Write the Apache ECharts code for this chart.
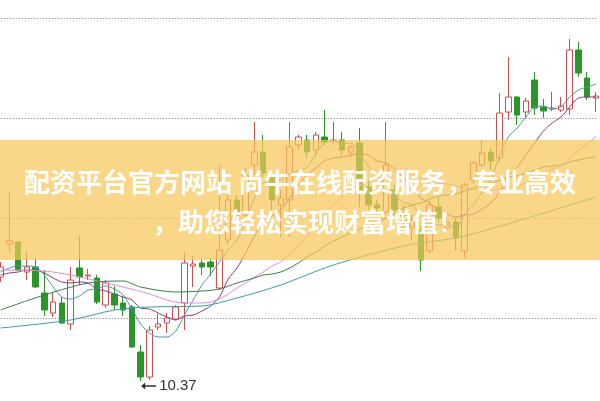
<!DOCTYPE html>
<html>
<head>
<meta charset="utf-8">
<script src="https://cdn.jsdelivr.net/npm/echarts@6/dist/echarts.min.js"></script>
<style>html,body{margin:0;padding:0;background:#fff;}#c{width:600px;height:401px;}</style>
</head>
<body>
<div id="c"></div>
<script>
const opens = [11.41,11.74,11.76,11.46,11.51,11.25,11.05,11.15,10.94,11.50,11.42,11.40,11.13,11.24,11.15,11.11,10.66,10.41,10.91,10.95,10.99,11.15,11.52,11.55,11.56,11.30,11.78,12.18,12.03,12.53,12.66,12.43,12.13,12.18,12.73,12.78,12.68,12.81,12.77,12.78,12.66,12.75,12.31,12.13,12.06,12.28,12.03,11.91,11.88,11.67,12.11,11.90,11.96,11.67,12.38,12.53,12.66,12.60,13.06,13.21,13.06,13.38,13.11,13.09,13.08,13.09,13.68,13.40,13.20];
const closes = [11.51,11.77,11.48,11.51,11.31,11.08,11.16,10.95,11.38,11.41,11.43,11.16,11.35,11.13,11.08,10.71,10.41,10.88,10.94,11.00,11.11,11.55,11.54,11.51,11.51,11.68,12.18,12.03,12.43,12.66,12.45,12.18,12.20,12.71,12.81,12.66,12.83,12.76,12.78,12.68,12.71,12.28,12.13,12.10,12.53,12.08,11.96,11.98,11.58,12.13,12.00,11.96,11.80,12.33,12.55,12.65,12.57,13.05,13.21,13.03,13.17,13.10,13.07,13.10,13.12,13.68,13.45,13.21,13.22];
const lows = [11.36,11.66,11.47,11.38,11.30,11.02,11.01,10.94,10.88,11.33,11.38,11.14,11.10,11.08,11.02,10.70,10.37,10.38,10.88,10.85,10.98,10.88,11.31,11.43,11.42,11.28,11.73,11.96,11.98,12.43,12.40,12.03,11.81,11.81,12.68,12.60,12.61,12.73,12.73,12.63,12.61,12.11,12.08,12.06,12.03,12.03,11.88,11.78,11.47,11.65,11.96,11.86,11.68,11.60,12.34,12.51,12.48,12.56,12.98,12.93,13.00,13.03,13.00,13.07,13.06,13.03,13.41,13.18,13.06];
const highs = [11.56,12.26,11.77,11.66,11.59,11.48,11.26,11.21,11.51,11.82,11.49,11.43,11.38,11.32,11.21,11.13,10.73,10.92,11.04,11.05,11.13,11.66,11.62,11.60,11.60,12.53,12.28,12.23,12.50,12.96,12.83,12.48,12.28,12.96,12.83,12.83,12.86,13.08,12.96,12.86,12.73,12.90,12.38,12.18,12.96,12.33,12.13,12.03,11.93,12.17,12.21,12.03,12.00,12.35,12.57,12.78,12.70,13.25,13.61,13.22,13.20,13.46,13.19,13.26,13.21,13.79,13.76,13.46,13.26];

const ma5 = [11.46,11.50,11.52,11.52,11.51,11.43,11.31,11.21,11.19,11.22,11.28,11.29,11.32,11.29,11.23,11.09,10.94,10.85,10.81,10.81,10.87,11.03,11.18,11.33,11.44,11.56,11.68,11.78,11.97,12.20,12.35,12.35,12.38,12.44,12.47,12.51,12.64,12.75,12.77,12.74,12.75,12.64,12.52,12.38,12.35,12.22,12.16,12.13,12.03,11.95,11.93,11.93,11.89,12.04,12.13,12.26,12.38,12.63,12.81,12.90,13.01,13.11,13.12,13.09,13.11,13.21,13.28,13.31,13.34];
const ma10 = [11.43,11.45,11.46,11.48,11.48,11.45,11.40,11.36,11.35,11.36,11.35,11.29,11.27,11.24,11.21,11.18,11.10,11.09,11.05,11.01,10.98,11.02,11.03,11.07,11.12,11.21,11.39,11.50,11.65,11.82,11.95,12.02,12.08,12.20,12.33,12.43,12.50,12.57,12.60,12.61,12.63,12.64,12.63,12.57,12.55,12.49,12.40,12.32,12.20,12.15,12.08,12.04,12.01,12.03,12.04,12.09,12.15,12.26,12.42,12.51,12.63,12.75,12.87,12.95,13.01,13.11,13.20,13.21,13.21];
const ma20 = [11.48,null,null,null,null,11.47,null,null,11.43,null,null,11.37,null,null,11.31,null,null,11.24,null,11.18,11.16,11.15,11.15,11.15,11.16,11.19,11.24,11.30,11.35,11.41,11.46,11.52,11.56,11.64,11.72,11.82,11.94,12.04,12.13,12.21,12.29,12.33,12.36,12.39,12.44,12.46,12.45,12.45,12.40,12.38,12.35,12.34,12.32,12.30,12.29,12.29,12.28,12.29,12.31,12.33,12.35,12.39,12.44,12.49,12.52,12.60,12.68,12.74,12.82];
const ma30 = [11.08,null,null,null,null,11.23,null,null,null,null,11.35,null,null,null,11.37,null,11.31,null,null,null,11.26,null,null,11.27,null,11.29,null,11.35,null,11.40,11.43,11.44,11.46,11.50,11.55,11.61,11.66,11.72,11.77,11.81,11.85,11.89,11.92,11.95,12.00,12.04,12.10,12.13,12.15,12.19,12.22,12.23,12.24,12.27,12.30,12.34,12.35,12.38,12.41,12.42,12.45,12.48,12.51,12.52,12.53,12.56,12.58,12.60,12.61];
const ma60Idx = [0,8,13,17,23,27,32,38,46,53,68];
const ma60Val = [10.90,10.98,11.08,11.11,11.12,11.20,11.33,11.53,11.72,11.82,12.21];

const bandLine1 = '配资平台官方网站 尚牛在线配资服务，专业高效';
const bandLine2 = '，助您轻松实现财富增值！';

const categories = opens.map((_, i) => 'D' + (i + 1));
const candles = opens.map((o, i) => [o, closes[i], lows[i], highs[i]]);
let minIdx = 0;
lows.forEach((v, i) => { if (v < lows[minIdx]) minIdx = i; });

const chart = echarts.init(document.getElementById('c'), null, {renderer: 'canvas'});
const lineBase = {type: 'line', symbol: 'none', smooth: 0.3, connectNulls: true, z: 3, silent: true, animation: false};
chart.setOption({
  animation: false,
  backgroundColor: '#ffffff',
  grid: {left: 0.54, right: 4, top: 18, height: 400, outerBoundsMode: 'none', containLabel: false},
  xAxis: {
    type: 'category', data: categories, boundaryGap: false,
    axisLine: {show: false}, axisTick: {show: false}, axisLabel: {show: false}, splitLine: {show: false}
  },
  yAxis: {
    type: 'value', min: 10, max: 14, interval: 1,
    axisLine: {show: false}, axisTick: {show: false}, axisLabel: {show: false},
    splitLine: {show: true, lineStyle: {color: '#a0a0a0', type: [1.5, 1.5], width: 1}}
  },
  series: [
    {
      type: 'candlestick', data: candles, barWidth: 6, clip: false, z: 2,
      itemStyle: {color: '#ffffff', color0: '#2a962a', borderColor: '#d84a4a', borderColor0: '#2a962a', borderWidth: 1},
      markPoint: {
        symbol: 'path://M0,5 L6,0 L6,4 L22,4 L22,6 L6,6 L6,10 Z',
        symbolSize: [15, 7], symbolOffset: [8, 5],
        itemStyle: {color: '#333333'},
        label: {show: true, position: 'right', distance: 3, color: '#333333', fontSize: 15, fontFamily: 'Liberation Sans, Arial, sans-serif', formatter: p => p.value.toFixed(2)},
        data: [{coord: [minIdx, lows[minIdx]], value: lows[minIdx]}]
      }
    },
    Object.assign({}, lineBase, {data: ma5, lineStyle: {color: '#4a97a8', width: 1}}),
    Object.assign({}, lineBase, {data: ma10, lineStyle: {color: '#8c3a78', width: 1}}),
    Object.assign({}, lineBase, {data: ma20, lineStyle: {color: '#e68ad8', width: 1}}),
    Object.assign({}, lineBase, {data: ma30, lineStyle: {color: '#3f7a46', width: 1}}),
    Object.assign({}, lineBase, {data: ma60Idx.map((x, k) => [x, ma60Val[k]]), lineStyle: {color: '#3d9aa6', width: 1}})
  ],
  graphic: [
    {type: 'rect', left: 0, top: 140, shape: {width: 600, height: 120}, style: {fill: 'rgba(248,200,90,0.72)'}, z: 100, silent: true},
    {type: 'text', x: 300, y: 182, z: 101, silent: true,
      style: {text: bandLine1, fill: '#ffffff', font: 'bold 26px "Noto Sans CJK SC"', textAlign: 'center', textVerticalAlign: 'middle'}},
    {type: 'text', x: 152, y: 222, z: 101, silent: true,
      style: {text: bandLine2, fill: '#ffffff', font: 'bold 26px "Noto Sans CJK SC"', textAlign: 'left', textVerticalAlign: 'middle'}}
  ]
});
</script>
</body>
</html>
